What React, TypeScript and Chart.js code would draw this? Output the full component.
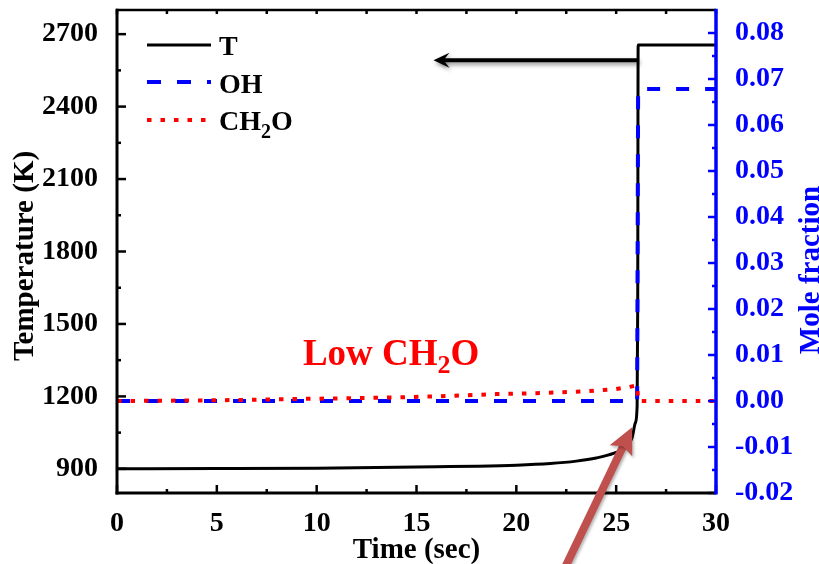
import React, { useEffect, useRef } from "react";
import { Chart, registerables } from "chart.js";

Chart.register(...registerables);

// ---- data ----
const TIME_T = [0, 5, 10, 13, 16, 18, 20, 21.7, 23, 24, 24.9, 25.5, 25.8, 25.96, 26.05, 26.08, 26.1, 30];
const TEMP = [900, 901, 903, 906, 909, 911, 915, 922, 932, 945, 965, 990, 1030, 1090, 1160, 1600, 2655, 2655];

const TIME_OH = [0, 26.05, 26.1, 30];
const OH = [0, 0, 0.0678, 0.0678];

const TIME_CH2O = [0, 5, 8.5, 13, 16, 19, 21, 23.5, 25, 25.6, 26.05, 26.1, 30];
const CH2O = [0, 0.00015, 0.0004, 0.0007, 0.001, 0.0015, 0.0017, 0.0021, 0.0026, 0.003, 0.0034, 0, 0];

const X_TICKS = [0, 5, 10, 15, 20, 25, 30];
const T_TICKS = [900, 1200, 1500, 1800, 2100, 2400, 2700];
const MF_TICKS = [-0.02, -0.01, 0, 0.01, 0.02, 0.03, 0.04, 0.05, 0.06, 0.07, 0.08];

// annotations (data units)
const BLACK_ARROW = { from: [26.1, 2592], to: [15.85, 2592] };
const BROWN_ARROW = { from: [22.2, 450], to: [25.8, 1072] };
const LOW_LABEL = { x: 9.31, y: 1330 };

const FONT = "'Liberation Serif', 'Times New Roman', serif";
const BLUE = "#0000FF";
const RED = "#FF0000";

function drawArrowHead(ctx: CanvasRenderingContext2D, tx: number, ty: number, ux: number, uy: number, len: number, half: number, notch: number) {
  const nx = -uy, ny = ux;
  const bx = tx - ux * len, by = ty - uy * len;
  ctx.beginPath();
  ctx.moveTo(tx, ty);
  ctx.lineTo(bx + nx * half, by + ny * half);
  ctx.lineTo(tx - ux * (len - notch), ty - uy * (len - notch));
  ctx.lineTo(bx - nx * half, by - ny * half);
  ctx.closePath();
  ctx.fill();
}

const overlay = {
  id: "overlay",
  afterDraw(chart: any) {
    const ctx: CanvasRenderingContext2D = chart.ctx;
    const { left, right, top, bottom } = chart.chartArea;
    const xs = chart.scales.x, ys = chart.scales.y, y1 = chart.scales.y1;
    ctx.save();
    ctx.setLineDash([]);
    ctx.lineCap = "butt";

    // ticks
    ctx.strokeStyle = "#000";
    ctx.lineWidth = 2.5;
    T_TICKS.forEach((v) => {
      const p = ys.getPixelForValue(v);
      ctx.beginPath(); ctx.moveTo(left, p); ctx.lineTo(left + 9, p); ctx.stroke();
      if (v + 150 < ys.max) {
        const pm = ys.getPixelForValue(v + 150);
        ctx.beginPath(); ctx.moveTo(left, pm); ctx.lineTo(left + 4, pm); ctx.stroke();
      }
    });
    X_TICKS.forEach((v, i) => {
      const p = xs.getPixelForValue(v);
      ctx.beginPath(); ctx.moveTo(p, bottom); ctx.lineTo(p, bottom - 8); ctx.stroke();
      ctx.beginPath(); ctx.moveTo(p, top); ctx.lineTo(p, top + 4); ctx.stroke();
      if (i < X_TICKS.length - 1) {
        const pm = xs.getPixelForValue(v + 2.5);
        ctx.beginPath(); ctx.moveTo(pm, bottom); ctx.lineTo(pm, bottom - 4); ctx.stroke();
        ctx.beginPath(); ctx.moveTo(pm, top); ctx.lineTo(pm, top + 4); ctx.stroke();
      }
    });
    ctx.strokeStyle = BLUE;
    MF_TICKS.forEach((v) => {
      const p = y1.getPixelForValue(v);
      ctx.beginPath(); ctx.moveTo(right, p); ctx.lineTo(right - 8, p); ctx.stroke();
      const m = v + 0.005;
      if (m < y1.max) {
        const pm = y1.getPixelForValue(m);
        ctx.beginPath(); ctx.moveTo(right, pm); ctx.lineTo(right - 4, pm); ctx.stroke();
      }
    });

    // axis lines
    ctx.strokeStyle = "#000";
    ctx.lineWidth = 2.5;
    ctx.beginPath(); ctx.moveTo(left - 1, top); ctx.lineTo(right, top); ctx.stroke();
    ctx.lineWidth = 3;
    ctx.beginPath(); ctx.moveTo(left, top - 1.25); ctx.lineTo(left, bottom + 1.5); ctx.stroke();
    ctx.beginPath(); ctx.moveTo(left - 1.5, bottom); ctx.lineTo(right, bottom); ctx.stroke();
    ctx.strokeStyle = BLUE;
    ctx.lineWidth = 3.5;
    ctx.beginPath(); ctx.moveTo(right, top - 1.25); ctx.lineTo(right, bottom + 1.5); ctx.stroke();

    // axis titles
    ctx.font = `bold 29px ${FONT}`;
    ctx.fillStyle = "#000";
    ctx.textAlign = "center";
    ctx.textBaseline = "alphabetic";
    ctx.fillText("Time (sec)", (left + right) / 2, 558);
    ctx.save();
    ctx.translate(33, 256);
    ctx.rotate(-Math.PI / 2);
    ctx.fillText("Temperature (K)", 0, 0);
    ctx.restore();
    ctx.save();
    ctx.fillStyle = BLUE;
    ctx.translate(819, 270);
    ctx.rotate(-Math.PI / 2);
    ctx.fillText("Mole fraction", 0, 0);
    ctx.restore();

    // legend
    const lx = left + 30, lx2 = left + 94, tx = left + 102;
    ctx.lineWidth = 3;
    ctx.strokeStyle = "#000";
    ctx.beginPath(); ctx.moveTo(lx, top + 35); ctx.lineTo(lx2, top + 35); ctx.stroke();
    ctx.lineWidth = 4;
    ctx.strokeStyle = BLUE;
    ctx.setLineDash([14, 16]);
    ctx.beginPath(); ctx.moveTo(lx, top + 72); ctx.lineTo(lx2, top + 72); ctx.stroke();
    ctx.strokeStyle = RED;
    ctx.setLineDash([4.5, 9]);
    ctx.beginPath(); ctx.moveTo(lx, top + 110); ctx.lineTo(lx2, top + 110); ctx.stroke();
    ctx.setLineDash([]);
    ctx.fillStyle = "#000";
    ctx.textAlign = "left";
    ctx.font = `bold 28px ${FONT}`;
    ctx.fillText("T", tx, top + 45);
    ctx.fillText("OH", tx, top + 83);
    ctx.fillText("CH", tx, top + 120);
    let w = ctx.measureText("CH").width;
    ctx.font = `bold 20px ${FONT}`;
    ctx.fillText("2", tx + w, top + 128);
    const w2 = ctx.measureText("2").width;
    ctx.font = `bold 28px ${FONT}`;
    ctx.fillText("O", tx + w + w2, top + 120);

    // Low CH2O label
    const lpx = xs.getPixelForValue(LOW_LABEL.x), lpy = ys.getPixelForValue(LOW_LABEL.y);
    ctx.fillStyle = RED;
    ctx.font = `bold 37px ${FONT}`;
    ctx.fillText("Low CH", lpx, lpy);
    w = ctx.measureText("Low CH").width;
    ctx.font = `bold 26px ${FONT}`;
    ctx.fillText("2", lpx + w, lpy + 8);
    const w3 = ctx.measureText("2").width;
    ctx.font = `bold 37px ${FONT}`;
    ctx.fillText("O", lpx + w + w3, lpy);

    // black arrow
    {
      const x0 = xs.getPixelForValue(BLACK_ARROW.from[0]), y0 = ys.getPixelForValue(BLACK_ARROW.from[1]);
      const x1 = xs.getPixelForValue(BLACK_ARROW.to[0]), y1p = ys.getPixelForValue(BLACK_ARROW.to[1]);
      const L = Math.hypot(x1 - x0, y1p - y0);
      const ux = (x1 - x0) / L, uy = (y1p - y0) / L;
      ctx.save();
      ctx.shadowColor = "rgba(0,0,0,0.45)";
      ctx.shadowBlur = 4;
      ctx.shadowOffsetX = 1.5;
      ctx.shadowOffsetY = 2.5;
      ctx.strokeStyle = "#000";
      ctx.fillStyle = "#000";
      ctx.lineWidth = 4;
      ctx.beginPath(); ctx.moveTo(x0, y0); ctx.lineTo(x1 - ux * 8, y1p - uy * 8); ctx.stroke();
      drawArrowHead(ctx, x1, y1p, ux, uy, 16, 7.5, 6);
      ctx.restore();
    }
    // brown arrow
    {
      const x0 = xs.getPixelForValue(BROWN_ARROW.from[0]), y0 = ys.getPixelForValue(BROWN_ARROW.from[1]);
      const x1 = xs.getPixelForValue(BROWN_ARROW.to[0]), y1p = ys.getPixelForValue(BROWN_ARROW.to[1]);
      const L = Math.hypot(x1 - x0, y1p - y0);
      const ux = (x1 - x0) / L, uy = (y1p - y0) / L;
      ctx.save();
      ctx.shadowColor = "rgba(0,0,0,0.3)";
      ctx.shadowBlur = 3;
      ctx.shadowOffsetX = 1.5;
      ctx.shadowOffsetY = 2;
      ctx.strokeStyle = "#C0504D";
      ctx.fillStyle = "#C0504D";
      ctx.lineWidth = 8;
      ctx.beginPath(); ctx.moveTo(x0, y0); ctx.lineTo(x1 - ux * 20, y1p - uy * 20); ctx.stroke();
      drawArrowHead(ctx, x1, y1p, ux, uy, 26, 12.5, 5);
      ctx.restore();
    }
    ctx.restore();
  },
};

function zeroPad(s: any) {
  s.paddingTop = 0;
  s.paddingBottom = 0;
  s.paddingLeft = 0;
  s.paddingRight = 0;
}

export default function App() {
  const ref = useRef<HTMLCanvasElement | null>(null);
  useEffect(() => {
    if (!ref.current) return;
    const tickFont = { family: FONT, size: 28, weight: "bold" as const };
    const chart = new Chart(ref.current, {
      type: "line",
      data: {
        datasets: [
          {
            label: "CH2O",
            data: TIME_CH2O.map((t, i) => ({ x: t, y: CH2O[i] })),
            yAxisID: "y1",
            borderColor: RED,
            borderWidth: 4,
            borderDash: [4.5, 9],
            pointRadius: 0,
            tension: 0,
            order: 1,
          },
          {
            label: "OH",
            data: TIME_OH.map((t, i) => ({ x: t, y: OH[i] })),
            yAxisID: "y1",
            borderColor: BLUE,
            borderWidth: 4,
            borderDash: [13, 16],
            pointRadius: 0,
            tension: 0,
            order: 2,
          },
          {
            label: "T",
            data: TIME_T.map((t, i) => ({ x: t, y: TEMP[i] })),
            yAxisID: "y",
            borderColor: "#000",
            borderWidth: 3,
            pointRadius: 0,
            cubicInterpolationMode: "monotone",
            order: 3,
          },
        ],
      },
      options: {
        responsive: false,
        animation: false,
        events: [],
        layout: { padding: { top: 10, left: 0, right: 0, bottom: 0 } },
        plugins: { legend: { display: false }, tooltip: { enabled: false } },
        scales: {
          x: {
            type: "linear",
            position: "bottom",
            min: 0,
            max: 30,
            grid: { display: false },
            border: { display: false },
            ticks: { font: tickFont, color: "#000", padding: 6, autoSkip: false, maxRotation: 0, callback: (v: any) => String(v) },
            afterBuildTicks: (s: any) => { s.ticks = X_TICKS.map((v) => ({ value: v })); },
            afterFit: (s: any) => { s.height = 71; zeroPad(s); },
          },
          y: {
            type: "linear",
            position: "left",
            min: 800,
            max: 2800,
            grid: { display: false },
            border: { display: false },
            ticks: { font: tickFont, color: "#000", padding: 11, autoSkip: false, callback: (v: any) => String(v) },
            afterBuildTicks: (s: any) => { s.ticks = T_TICKS.map((v) => ({ value: v })); },
            afterFit: (s: any) => { s.width = 117; zeroPad(s); },
          },
          y1: {
            type: "linear",
            position: "right",
            min: -0.02,
            max: 0.085,
            grid: { display: false },
            border: { display: false },
            ticks: {
              font: tickFont,
              color: BLUE,
              padding: 11,
              autoSkip: false,
              callback: (v: any) => Number(v).toFixed(2),
            },
            afterBuildTicks: (s: any) => { s.ticks = MF_TICKS.map((v) => ({ value: v })); },
            afterFit: (s: any) => { s.width = 103; zeroPad(s); },
          },
        },
      },
      plugins: [overlay],
    } as any);
    return () => chart.destroy();
  }, []);
  return (
    <div style={{ position: "fixed", left: 0, top: 0, width: 819, height: 564, background: "#fff" }}>
      <canvas ref={ref} width={819} height={564} style={{ display: "block" }} />
    </div>
  );
}
